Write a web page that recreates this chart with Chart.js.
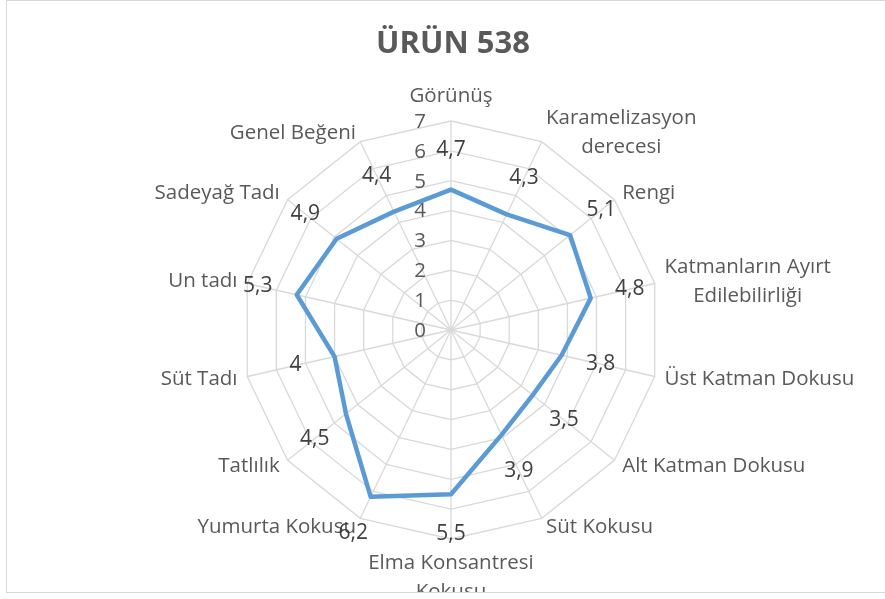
<!DOCTYPE html>
<html lang="tr">
<head>
    <meta charset="UTF-8">
    <title>ÜRÜN 538</title>
    <script src="https://cdn.jsdelivr.net/npm/chart.js"></script>
    <style>
        body {
            margin: 0;
            background-color: #ffffff;
        }
        #wrap {
            width: 885px;
            height: 599px;
        }
    </style>
</head>
<body>
    <div id="wrap"><canvas id="radarChart" width="885" height="599"></canvas></div>

    <script>
        const chartTitle = 'ÜRÜN 538';
        const categories = [
            ['Görünüş'],
            ['Karamelizasyon', 'derecesi'],
            ['Rengi'],
            ['Katmanların Ayırt', 'Edilebilirliği'],
            ['Üst Katman Dokusu'],
            ['Alt Katman Dokusu'],
            ['Süt Kokusu'],
            ['Elma Konsantresi', 'Kokusu'],
            ['Yumurta Kokusu'],
            ['Tatlılık'],
            ['Süt Tadı'],
            ['Un tadı'],
            ['Sadeyağ Tadı'],
            ['Genel Beğeni']
        ];
        const scores = [4.7, 4.3, 5.1, 4.8, 3.8, 3.5, 3.9, 5.5, 6.2, 4.5, 4, 5.3, 4.9, 4.4];
        const tickValues = [0, 1, 2, 3, 4, 5, 6, 7];

        const labelFont = '20.5px "Open Sans"';
        const valueFont = '21px "Open Sans"';
        const lineHeight = 29;

        // draws the frame, title, tick numbers, category names and value labels
        const excelLook = {
            id: 'excelLook',
            beforeDraw(chart) {
                const ctx = chart.ctx;
                ctx.save();
                ctx.fillStyle = '#ffffff';
                ctx.fillRect(0, 0, chart.width, chart.height);
                ctx.strokeStyle = '#d9d9d9';
                ctx.lineWidth = 1;
                ctx.strokeRect(6.5, 0.5, 900, 592);
                ctx.restore();
            },
            afterDatasetsDraw(chart) {
                const ctx = chart.ctx;
                const r = chart.scales.r;
                ctx.save();
                ctx.beginPath();
                ctx.rect(7, 1, chart.width, 591);
                ctx.clip();

                // title
                ctx.fillStyle = '#595959';
                ctx.font = 'bold 31px "Open Sans"';
                ctx.textAlign = 'center';
                ctx.textBaseline = 'middle';
                ctx.fillText(chartTitle, 453, 44);

                // tick numbers, left of the vertical axis
                ctx.font = labelFont;
                ctx.textAlign = 'right';
                tickValues.forEach(v => {
                    const d = r.getDistanceFromCenterForValue(v);
                    ctx.fillText(String(v), r.xCenter - 25, r.yCenter - d + 1);
                });

                // category names
                ctx.textAlign = 'center';
                const outer = r.drawingArea + 10;
                categories.forEach((lines, i) => {
                    const p = r.getPointPosition(i, outer);
                    const a = i * 2 * Math.PI / categories.length;
                    const s = Math.sin(a), c = Math.cos(a);
                    const maxW = Math.max(...lines.map(t => ctx.measureText(t).width));
                    let cx = p.x;
                    if (s > 0.01) cx = p.x + maxW / 2;
                    else if (s < -0.01) cx = p.x - maxW / 2;
                    let top;
                    if (Math.abs(s) <= 0.01) {
                        top = c > 0 ? p.y - lines.length * lineHeight : p.y;
                    } else {
                        top = p.y - lines.length * lineHeight / 2;
                    }
                    lines.forEach((t, k) => {
                        ctx.fillText(t, cx, top + lineHeight * (k + 0.5));
                    });
                });

                // value labels
                ctx.font = valueFont;
                ctx.fillStyle = '#404040';
                scores.forEach((v, i) => {
                    const p = r.getPointPosition(i, r.getDistanceFromCenterForValue(v) + 40);
                    ctx.fillText(String(v).replace('.', ','), p.x, p.y);
                });
                ctx.restore();
            }
        };

        new Chart(document.getElementById('radarChart'), {
            type: 'radar',
            data: {
                labels: categories,
                datasets: [{
                    label: chartTitle,
                    data: scores,
                    borderColor: '#5b9bd5',
                    borderWidth: 4.5,
                    borderJoinStyle: 'round',
                    pointRadius: 0,
                    fill: false
                }]
            },
            options: {
                responsive: false,
                animation: false,
                layout: {
                    padding: { left: 242, right: 225, top: 121, bottom: 60 }
                },
                plugins: {
                    legend: { display: false },
                    tooltip: { enabled: false },
                    title: { display: false }
                },
                scales: {
                    r: {
                        min: 0,
                        max: 7,
                        ticks: { stepSize: 1, display: false },
                        pointLabels: { display: false },
                        grid: { color: '#d9d9d9', lineWidth: 1.3 },
                        angleLines: { color: '#d9d9d9', lineWidth: 1.3 }
                    }
                }
            },
            plugins: [excelLook]
        });
    </script>
</body>
</html>
